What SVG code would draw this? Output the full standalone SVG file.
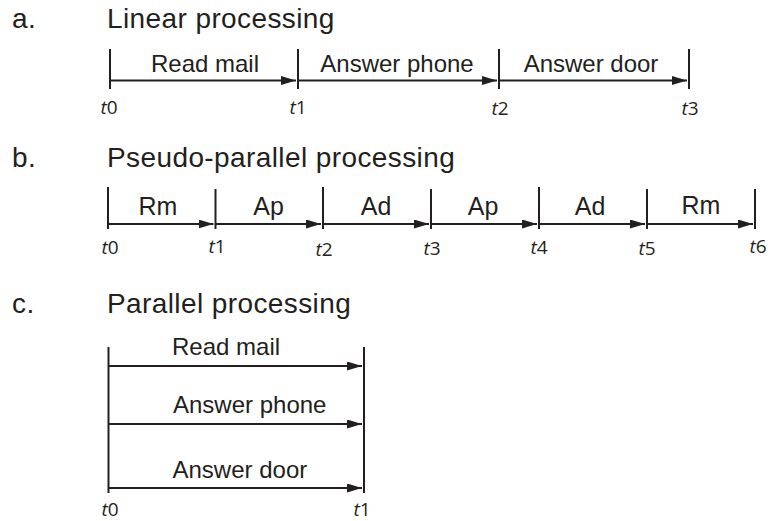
<svg xmlns="http://www.w3.org/2000/svg" width="772" height="521" viewBox="0 0 772 521">
  <style>
    .title { font-family: "Liberation Sans", Arial, sans-serif; font-size: 28px; letter-spacing: 0.4px; fill: #231f20; }
    .lbl { font-family: "Liberation Sans", Arial, sans-serif; font-size: 24px; fill: #231f20; }
    .lblb { font-family: "Liberation Sans", Arial, sans-serif; font-size: 25px; fill: #231f20; text-anchor: middle; }
    .mid { text-anchor: middle; }
    .t { font-family: "Open Sans", "Noto Sans", sans-serif; font-size: 19px; fill: #231f20; text-anchor: middle; }
    .ti { font-style: italic; }
    .tick { stroke: #231f20; stroke-width: 2; fill: none; }
    .arrow { stroke: #231f20; stroke-width: 1.8; fill: none; marker-end: url(#arr); }
  </style>
  <defs>
    <marker id="arr" markerUnits="userSpaceOnUse" markerWidth="16" markerHeight="9" refX="15" refY="4.5" orient="auto" viewBox="0 0 16 9">
      <path d="M0,0 L15,4.5 L0,9 z" fill="#231f20"/>
    </marker>
  </defs>

  <!-- Section a -->
  <g id="section-a">
    <text class="title" x="12" y="28">a.</text>
    <text class="title" x="107" y="28">Linear processing</text>
    <g id="a-ticks">
      <line class="tick" x1="110" y1="49" x2="110" y2="89"/>
      <line class="tick" x1="298" y1="49" x2="298" y2="89"/>
      <line class="tick" x1="499" y1="49" x2="499" y2="89"/>
      <line class="tick" x1="689" y1="49" x2="689" y2="89"/>
    </g>
    <g id="a-read-mail"><text class="lbl mid" x="205" y="72">Read mail</text></g>
    <g id="a-answer-phone"><text class="lbl mid" x="397" y="72">Answer phone</text></g>
    <g id="a-answer-door"><text class="lbl mid" x="591" y="72">Answer door</text></g>
    <g id="a-times">
      <text class="t" x="109" y="114"><tspan class="ti">t</tspan>0</text>
      <text class="t" x="298" y="114"><tspan class="ti">t</tspan>1</text>
      <text class="t" x="500" y="115"><tspan class="ti">t</tspan>2</text>
      <text class="t" x="690" y="115"><tspan class="ti">t</tspan>3</text>
    </g>
  </g>

  <!-- Section b -->
  <g id="section-b">
    <text class="title" x="12" y="167">b.</text>
    <text class="title" x="107" y="167">Pseudo-parallel processing</text>
    <g id="b-ticks">
      <line class="tick" x1="108" y1="187" x2="108" y2="229"/>
      <line class="tick" x1="215.5" y1="189" x2="215.5" y2="229"/>
      <line class="tick" x1="323" y1="187" x2="323" y2="229"/>
      <line class="tick" x1="431" y1="189" x2="431" y2="229"/>
      <line class="tick" x1="539" y1="187" x2="539" y2="229"/>
      <line class="tick" x1="647" y1="189" x2="647" y2="229"/>
      <line class="tick" x1="755" y1="189" x2="755" y2="229"/>
    </g>
    <g id="b-rm1"><text class="lblb" x="158" y="215">Rm</text></g>
    <g id="b-ap1"><text class="lblb" x="268.5" y="215">Ap</text></g>
    <g id="b-ad1"><text class="lblb" x="376" y="215">Ad</text></g>
    <g id="b-ap2"><text class="lblb" x="483" y="215">Ap</text></g>
    <g id="b-ad2"><text class="lblb" x="590" y="215">Ad</text></g>
    <g id="b-rm2"><text class="lblb" x="701" y="214">Rm</text></g>
    <g id="b-times">
      <text class="t" x="110" y="254"><tspan class="ti">t</tspan>0</text>
      <text class="t" x="217" y="253"><tspan class="ti">t</tspan>1</text>
      <text class="t" x="324" y="256"><tspan class="ti">t</tspan>2</text>
      <text class="t" x="432" y="255"><tspan class="ti">t</tspan>3</text>
      <text class="t" x="539" y="254"><tspan class="ti">t</tspan>4</text>
      <text class="t" x="647" y="255"><tspan class="ti">t</tspan>5</text>
      <text class="t" x="758" y="253"><tspan class="ti">t</tspan>6</text>
    </g>
  </g>

  <!-- Section c -->
  <g id="section-c">
    <text class="title" x="12" y="313">c.</text>
    <text class="title" x="107" y="313">Parallel processing</text>
    <g id="c-ticks">
      <line class="tick" x1="108.5" y1="347" x2="108.5" y2="493"/>
      <line class="tick" x1="364" y1="347" x2="364" y2="493"/>
    </g>
    <g id="c-read-mail"><text class="lbl" x="172" y="355">Read mail</text></g>
    <g id="c-answer-phone"><text class="lbl" x="173" y="413">Answer phone</text></g>
    <g id="c-answer-door"><text class="lbl" x="172.5" y="478">Answer door</text></g>
    <g id="c-times">
      <text class="t" x="110" y="516"><tspan class="ti">t</tspan>0</text>
      <text class="t" x="362" y="516"><tspan class="ti">t</tspan>1</text>
    </g>
  </g>

  <!-- Connectors -->
  <g id="connectors">
    <line class="arrow" x1="110" y1="80.5" x2="296" y2="80.5"/>
    <line class="arrow" x1="298" y1="80.5" x2="497" y2="80.5"/>
    <line class="arrow" x1="499" y1="80.5" x2="687" y2="80.5"/>

    <line class="arrow" x1="108" y1="224" x2="213.5" y2="224"/>
    <line class="arrow" x1="215.5" y1="224" x2="321" y2="224"/>
    <line class="arrow" x1="323" y1="224" x2="429" y2="224"/>
    <line class="arrow" x1="431" y1="224" x2="537" y2="224"/>
    <line class="arrow" x1="539" y1="224" x2="645" y2="224"/>
    <line class="arrow" x1="647" y1="224" x2="753" y2="224"/>

    <line class="arrow" x1="108.5" y1="366" x2="362" y2="366"/>
    <line class="arrow" x1="108.5" y1="424" x2="362" y2="424"/>
    <line class="arrow" x1="108.5" y1="488" x2="362" y2="488"/>
  </g>
</svg>
